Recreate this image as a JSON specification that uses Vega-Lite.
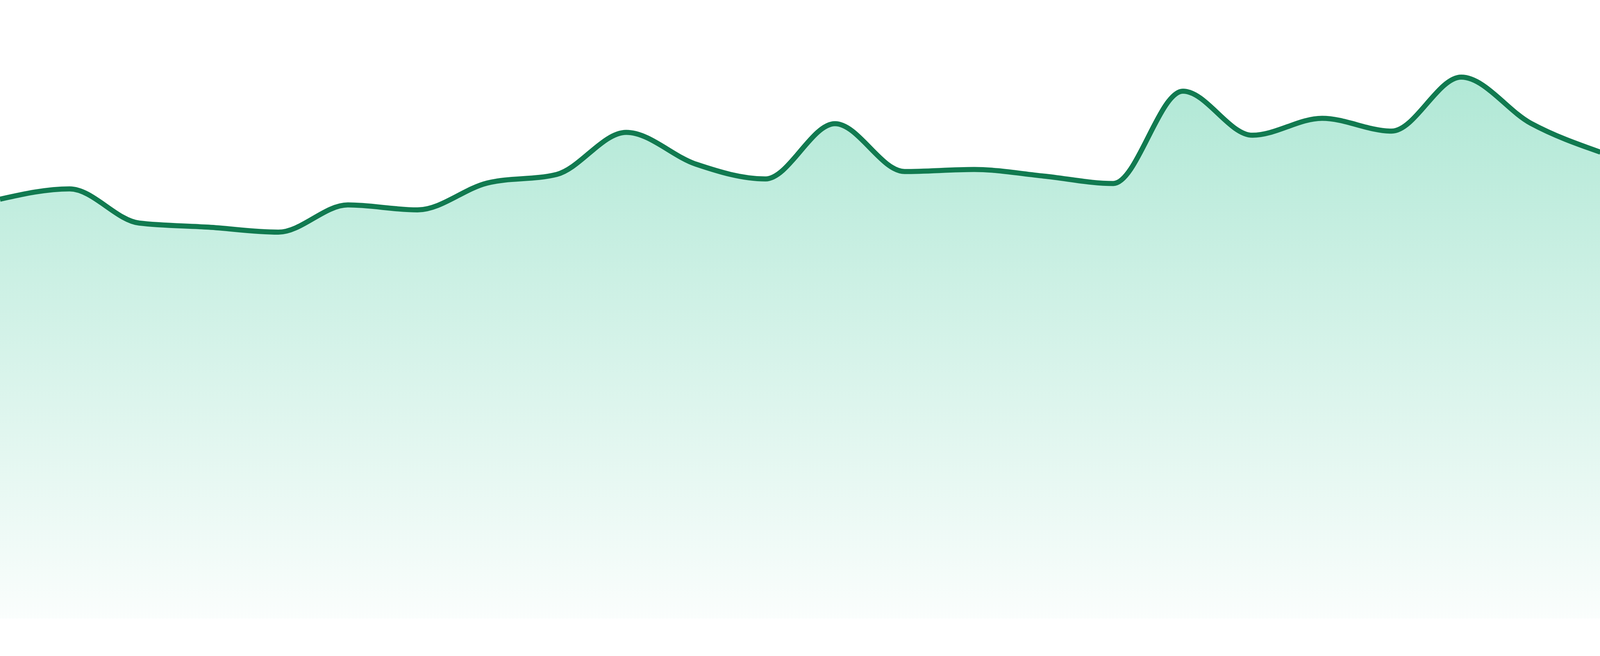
{
  "$schema": "https://vega.github.io/schema/vega-lite/v6.json",
  "width": 4097,
  "height": 1584,
  "autosize": {"type": "none"},
  "padding": {"left": 0, "right": 0, "top": 0, "bottom": 46},
  "background": "#ffffff",
  "data": {
    "values": [
      {"hour": 0, "value": 101.7},
      {"hour": 1, "value": 104.2},
      {"hour": 2, "value": 95.9},
      {"hour": 3, "value": 94.9},
      {"hour": 4, "value": 93.7},
      {"hour": 5, "value": 100.3},
      {"hour": 6, "value": 99.1},
      {"hour": 7, "value": 105.6},
      {"hour": 8, "value": 107.7},
      {"hour": 9, "value": 117.9},
      {"hour": 10, "value": 110.2},
      {"hour": 11, "value": 106.6},
      {"hour": 12, "value": 120.0},
      {"hour": 13, "value": 108.4},
      {"hour": 14, "value": 108.9},
      {"hour": 15, "value": 107.3},
      {"hour": 16, "value": 105.5},
      {"hour": 17, "value": 127.9},
      {"hour": 18, "value": 117.2},
      {"hour": 19, "value": 121.3},
      {"hour": 20, "value": 118.2},
      {"hour": 21, "value": 131.3},
      {"hour": 22, "value": 120.1},
      {"hour": 23, "value": 113.1}
    ]
  },
  "encoding": {
    "x": {
      "field": "hour",
      "type": "quantitative",
      "scale": {"domain": [0, 23], "nice": false, "zero": false},
      "axis": null
    },
    "y": {
      "field": "value",
      "type": "quantitative",
      "scale": {"domain": [0, 150], "nice": false},
      "axis": null
    }
  },
  "layer": [
    {
      "mark": {
        "type": "area",
        "interpolate": "monotone",
        "color": {
          "gradient": "linear",
          "x1": 0, "y1": 0, "x2": 0, "y2": 1,
          "stops": [
            {"offset": 0, "color": "rgba(16,185,129,0.33)"},
            {"offset": 1, "color": "rgba(16,185,129,0.02)"}
          ]
        }
      }
    },
    {
      "mark": {
        "type": "line",
        "interpolate": "monotone",
        "color": "#117a50",
        "strokeWidth": 13
      }
    }
  ],
  "config": {"view": {"stroke": null}}
}
